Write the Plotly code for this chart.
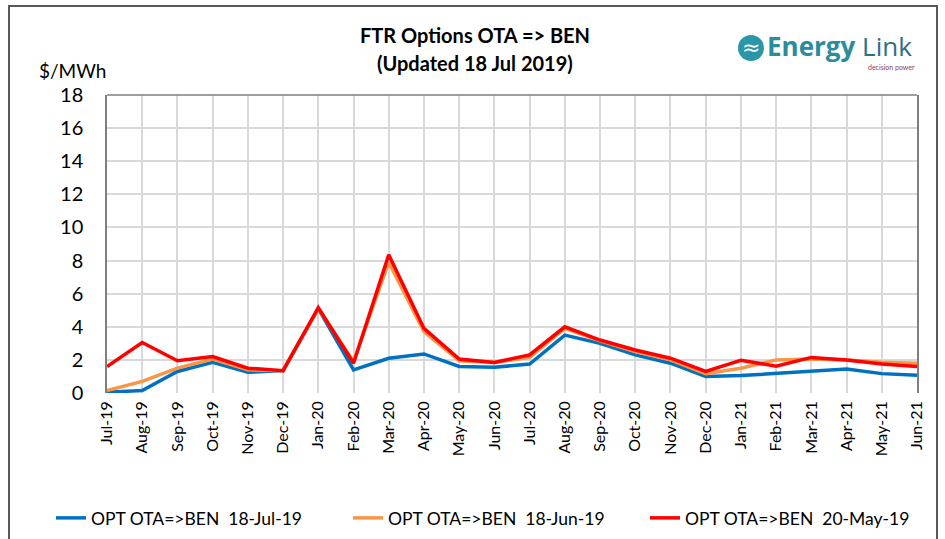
import plotly.graph_objects as go

months = ["Jul-19","Aug-19","Sep-19","Oct-19","Nov-19","Dec-19","Jan-20","Feb-20","Mar-20","Apr-20",
          "May-20","Jun-20","Jul-20","Aug-20","Sep-20","Oct-20","Nov-20","Dec-20","Jan-21","Feb-21",
          "Mar-21","Apr-21","May-21","Jun-21"]
jul19 = [0.05,0.15,1.3,1.85,1.25,1.35,5.1,1.4,2.1,2.36,1.6,1.55,1.75,3.5,3.0,2.3,1.8,1.0,1.05,1.17,1.3,1.45,1.17,1.07]
jun19 = [0.15,0.7,1.5,2.05,1.4,1.35,5.1,1.9,7.9,3.7,1.95,1.85,2.15,3.9,3.15,2.5,2.0,1.17,1.5,2.0,2.05,2.0,1.85,1.8]
may19 = [1.6,3.05,1.95,2.2,1.5,1.35,5.15,1.8,8.35,3.9,2.05,1.85,2.3,4.0,3.2,2.6,2.1,1.3,1.98,1.62,2.15,2.0,1.75,1.6]
series_names = ["OPT OTA=>BEN  18-Jul-19", "OPT OTA=>BEN  18-Jun-19", "OPT OTA=>BEN  20-May-19"]
series_colors = ["#0070C0", "#F79646", "#FF0000"]
y_ticks = [0, 2, 4, 6, 8, 10, 12, 14, 16, 18]

FONT = "Lato"
L, R, T, B = 107, 917, 95, 393
W, H = 945, 539

def px(x):
    return (x - L) / (R - L)

def py(y):
    return (B - y) / (B - T)

fig = go.Figure()
idx = list(range(len(months)))
for vals, name, col in zip([jul19, jun19, may19], series_names, series_colors):
    fig.add_trace(go.Scatter(x=idx, y=vals, mode="lines", name=name,
                             line=dict(color=col, width=3.5)))

fig.update_layout(
    width=W, height=H,
    margin=dict(l=L, r=W - R, t=T, b=H - B, autoexpand=False),
    paper_bgcolor="white", plot_bgcolor="white",
    font=dict(family=FONT, color="#000000"),
    showlegend=True,
    legend=dict(orientation="h", x=px(51), y=py(518), xanchor="left", yanchor="middle",
                font=dict(size=17.5, family=FONT), entrywidth=252, bgcolor="rgba(0,0,0,0)"),
)
fig.update_xaxes(
    range=[0, len(months) - 1], tickmode="array", tickvals=idx, ticktext=months,
    tickangle=-90, tickfont=dict(size=16, family=FONT), automargin=False,
    showgrid=True, gridcolor="#D9D9D9", gridwidth=1.5, zeroline=False,
    showline=False, ticks="", ticklabelstandoff=4,
)
fig.update_yaxes(
    range=[0, 18], tickvals=y_ticks, tickfont=dict(size=20, family=FONT), automargin=False,
    showgrid=True, gridcolor="#D9D9D9", gridwidth=1.5, zeroline=False,
    showline=True, linecolor="#7F7F7F", linewidth=1.5, mirror=True, ticks="",
    ticklabelstandoff=18,
)

shapes = [
    dict(type="line", xref="paper", yref="paper", x0=0, x1=1, y0=1, y1=1,
         line=dict(color="#7F7F7F", width=1.5)),
    dict(type="rect", xref="paper", yref="paper", x0=px(9), x1=px(937), y0=py(6), y1=py(560),
         line=dict(color="#595959", width=2)),
    dict(type="circle", xref="paper", yref="paper", x0=px(738), x1=px(764), y0=py(61), y1=py(35),
         fillcolor="#2A96A8", line=dict(width=0)),
]
fig.update_layout(shapes=shapes)

for text, y in [("<b>FTR Options OTA => BEN</b>", 35), ("<b>(Updated 18 Jul 2019)</b>", 63)]:
    fig.add_annotation(text=text, xref="paper", yref="paper", x=px(475), y=py(y),
                       xanchor="center", yanchor="middle", showarrow=False,
                       font=dict(size=20, family=FONT, color="#000"))
fig.add_annotation(text="$/MWh", xref="paper", yref="paper", x=px(72), y=py(71),
                   xanchor="center", yanchor="middle", showarrow=False,
                   font=dict(size=19, family=FONT, color="#000"))
fig.add_annotation(text="≈", xref="paper", yref="paper", x=px(751), y=py(47),
                   xanchor="center", yanchor="middle", showarrow=False,
                   font=dict(size=22, family="DejaVu Sans", color="white"))
fig.add_annotation(text="<b>Energy</b> <span style='color:#2E6F86'>Link</span>", xref="paper", yref="paper",
                   x=px(765), y=py(46), xanchor="left", yanchor="middle", showarrow=False,
                   font=dict(size=26, family="Open Sans", color="#2A8C9C"))
fig.add_annotation(text="decision power", xref="paper", yref="paper", x=px(917), y=py(67),
                   xanchor="right", yanchor="middle", showarrow=False,
                   font=dict(size=7, family=FONT, color="#8B3A62"))

fig.write_html("out.html", config={"displayModeBar": False},
               post_script="document.body.style.margin='0';")
